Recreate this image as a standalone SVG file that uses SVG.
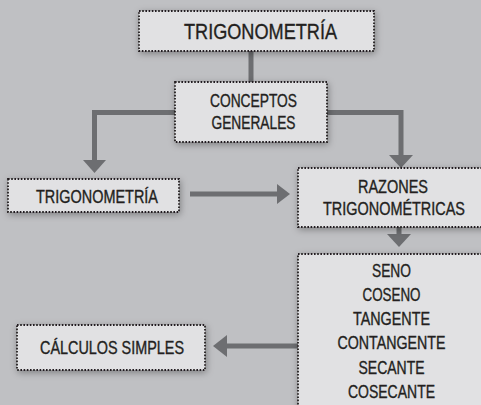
<svg xmlns="http://www.w3.org/2000/svg" width="481" height="405" viewBox="0 0 481 405">
<defs>
<filter id="sh" x="-20%" y="-30%" width="140%" height="160%">
<feDropShadow dx="1" dy="2" stdDeviation="3.5" flood-color="#000" flood-opacity="0.35"/>
</filter>
<style>
.box{fill:#e1e1e3;stroke:#231f20;stroke-width:1.8;stroke-dasharray:1.6 1.6;filter:url(#sh)}
.t{font-family:"Liberation Sans Narrow","Liberation Sans",Arial,sans-serif;fill:#231f20;stroke:#231f20;stroke-width:0.35;text-anchor:middle;font-size:17.5px}
.ln{fill:none;stroke:#6d6e71;stroke-width:5}
.hd{fill:#6d6e71}
</style>
</defs>
<rect width="481" height="405" fill="#bfc0c3"/>
<g id="connectors">
<line class="ln" x1="251" y1="50" x2="251" y2="83"/>
<polyline class="ln" points="176,112.5 94.5,112.5 94.5,161"/>
<polygon class="hd" points="83,160 106,160 94.5,173"/>
<polyline class="ln" points="326,112.5 401,112.5 401,156"/>
<polygon class="hd" points="389,155 413,155 401,168"/>
<line class="ln" x1="190" y1="194" x2="278" y2="194"/>
<polygon class="hd" points="277,184 277,204 290,194"/>
<line class="ln" x1="399" y1="227" x2="399" y2="235"/>
<polygon class="hd" points="387,234 411,234 399,247"/>
<line class="ln" x1="298" y1="346" x2="226" y2="346"/>
<polygon class="hd" points="227,335 227,357 213,346"/>
</g>
<g id="n-top">
<rect class="box" x="139" y="11" width="235" height="40"/>
<text class="t" x="260.5" y="38.5" style="font-size:22.5px" textLength="153" lengthAdjust="spacingAndGlyphs">TRIGONOMETRÍA</text>
</g>
<g id="n-conceptos">
<rect class="box" x="175" y="82" width="152" height="60"/>
<text class="t" x="253.5" y="106.7" textLength="87" lengthAdjust="spacingAndGlyphs">CONCEPTOS</text>
<text class="t" x="253.5" y="129" textLength="84" lengthAdjust="spacingAndGlyphs">GENERALES</text>
</g>
<g id="n-trig">
<rect class="box" x="8" y="179" width="171" height="33"/>
<text class="t" x="97" y="203.3" textLength="122" lengthAdjust="spacingAndGlyphs">TRIGONOMETRÍA</text>
</g>
<g id="n-razones">
<rect class="box" x="298" y="168" width="192" height="59"/>
<text class="t" x="393" y="193.3" textLength="70" lengthAdjust="spacingAndGlyphs">RAZONES</text>
<text class="t" x="394" y="215" textLength="142" lengthAdjust="spacingAndGlyphs">TRIGONOMÉTRICAS</text>
</g>
<g id="n-funciones">
<rect class="box" x="298" y="254" width="192" height="160"/>
<text class="t" x="391.5" y="277.3" textLength="39" lengthAdjust="spacingAndGlyphs">SENO</text>
<text class="t" x="391.5" y="301" textLength="58" lengthAdjust="spacingAndGlyphs">COSENO</text>
<text class="t" x="391.5" y="325" textLength="77" lengthAdjust="spacingAndGlyphs">TANGENTE</text>
<text class="t" x="391.5" y="349.3" textLength="108" lengthAdjust="spacingAndGlyphs">CONTANGENTE</text>
<text class="t" x="391.5" y="374" textLength="66" lengthAdjust="spacingAndGlyphs">SECANTE</text>
<text class="t" x="391.5" y="397.7" textLength="87" lengthAdjust="spacingAndGlyphs">COSECANTE</text>
</g>
<g id="n-calculos">
<rect class="box" x="17" y="325" width="188" height="45"/>
<text class="t" x="112" y="354" textLength="144" lengthAdjust="spacingAndGlyphs">CÁLCULOS SIMPLES</text>
</g>
</svg>
